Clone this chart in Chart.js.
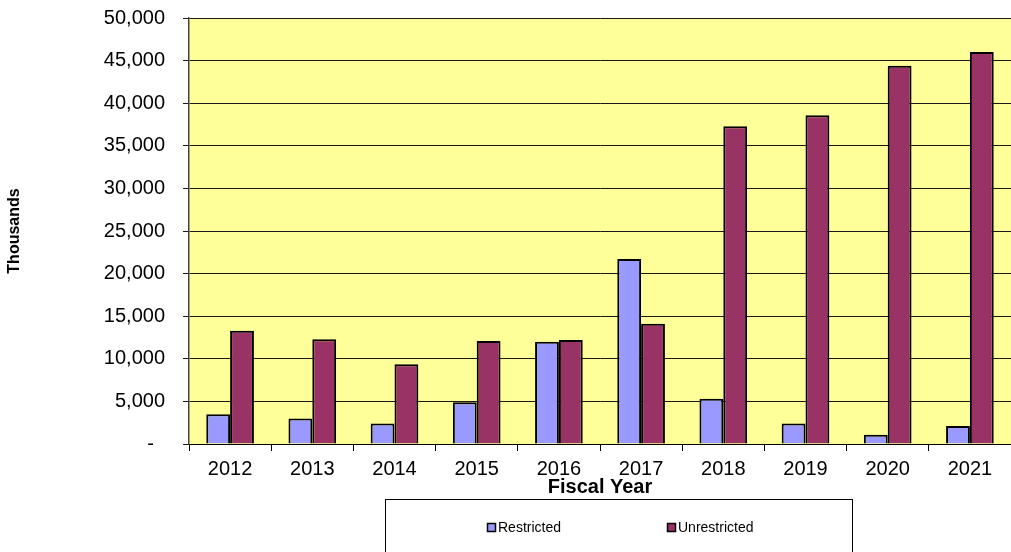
<!DOCTYPE html>
<html>
<head>
<meta charset="utf-8">
<script src="https://cdn.jsdelivr.net/npm/chart.js@4/dist/chart.umd.min.js"></script>
<style>
  html, body { margin: 0; padding: 0; background: #ffffff; }
  #wrap { width: 1011px; height: 552px; position: relative; overflow: hidden; }
</style>
</head>
<body>
<div id="wrap"><canvas id="c" width="1011" height="552"></canvas></div>
<script>
const categories = ['2012', '2013', '2014', '2015', '2016', '2017', '2018', '2019', '2020', '2021'];
const restricted = [3500, 3000, 2400, 4900, 12000, 21700, 5300, 2400, 1100, 2100];
const unrestricted = [13300, 12300, 9350, 12100, 12200, 14100, 37300, 38600, 44400, 46000];
const seriesNames = ['Restricted', 'Unrestricted'];
const yTickStep = 5000;
const yMax = 50000;

const FONT = "'Liberation Sans', Arial, sans-serif";

const plotBg = {
  id: 'plotBg',
  beforeDraw(chart) {
    const { ctx, chartArea: a } = chart;
    ctx.save();
    ctx.fillStyle = '#FFFF99';
    ctx.fillRect(a.left, a.top, a.right - a.left, a.bottom - a.top);
    ctx.restore();
  }
};

const boxedLegend = {
  id: 'boxedLegend',
  afterDraw(chart) {
    const { ctx } = chart;
    ctx.save();
    ctx.strokeStyle = '#000000';
    ctx.lineWidth = 1;
    ctx.strokeRect(385.5, 499.5, 467, 80);
    ctx.font = '14px ' + FONT;
    ctx.textBaseline = 'middle';
    ctx.textAlign = 'left';
    chart.data.datasets.forEach((ds, i) => {
      const x = 487.5 + i * 180;
      const y = 527.5;
      ctx.fillStyle = ds.backgroundColor;
      ctx.fillRect(x, y - 4, 8, 8);
      ctx.lineWidth = 1.5;
      ctx.strokeStyle = '#000000';
      ctx.strokeRect(x, y - 4, 8, 8);
      ctx.fillStyle = '#000000';
      ctx.fillText(ds.label, x + 10.5, y + 0.5);
    });
    ctx.restore();
  }
};

new Chart(document.getElementById('c'), {
  type: 'bar',
  data: {
    labels: categories,
    datasets: [
      {
        label: seriesNames[0],
        data: restricted,
        backgroundColor: '#9999FF',
        borderColor: '#000000',
        borderWidth: 2,
        categoryPercentage: 0.58,
        barPercentage: 1.0
      },
      {
        label: seriesNames[1],
        data: unrestricted,
        backgroundColor: '#993366',
        borderColor: '#000000',
        borderWidth: 2,
        categoryPercentage: 0.58,
        barPercentage: 1.0
      }
    ]
  },
  options: {
    responsive: false,
    animation: false,
    layout: { padding: { top: 18, left: 0, right: 0, bottom: 53 } },
    plugins: {
      legend: { display: false },
      tooltip: { enabled: false },
      title: { display: false }
    },
    scales: {
      x: {
        offset: true,
        grid: {
          offset: true,
          drawOnChartArea: false,
          drawTicks: true,
          tickLength: 7,
          color: '#000000',
          lineWidth: 1
        },
        border: { display: true, color: '#000000', width: 1 },
        ticks: {
          color: '#000000',
          font: { family: FONT, size: 20 },
          padding: 6,
          maxRotation: 0,
          autoSkip: false
        },
        title: {
          display: true,
          text: 'Fiscal Year',
          color: '#000000',
          font: { family: FONT, size: 20, weight: 'bold' },
          padding: { top: 0, bottom: 0 }
        },
        afterFit(scale) { scale.height = 55; scale.paddingLeft = 0; scale.paddingRight = 0; }
      },
      y: {
        min: 0,
        max: yMax,
        grid: {
          color: '#1a1a1a',
          lineWidth: 1,
          drawTicks: true,
          tickLength: 6
        },
        border: { display: true, color: '#444444', width: 1.5 },
        ticks: {
          stepSize: yTickStep,
          color: '#000000',
          font: { family: FONT, size: 20 },
          padding: 18,
          callback: (v) => v === 0 ? '-  ' : Number(v).toLocaleString('en-US')
        },
        title: {
          display: true,
          text: 'Thousands',
          color: '#000000',
          font: { family: FONT, size: 16, weight: 'bold' },
          padding: { top: 5, bottom: 0 }
        },
        afterFit(scale) { scale.width = 189; scale.paddingTop = 0; scale.paddingBottom = 0; }
      }
    }
  },
  plugins: [plotBg, boxedLegend]
});
</script>
</body>
</html>
